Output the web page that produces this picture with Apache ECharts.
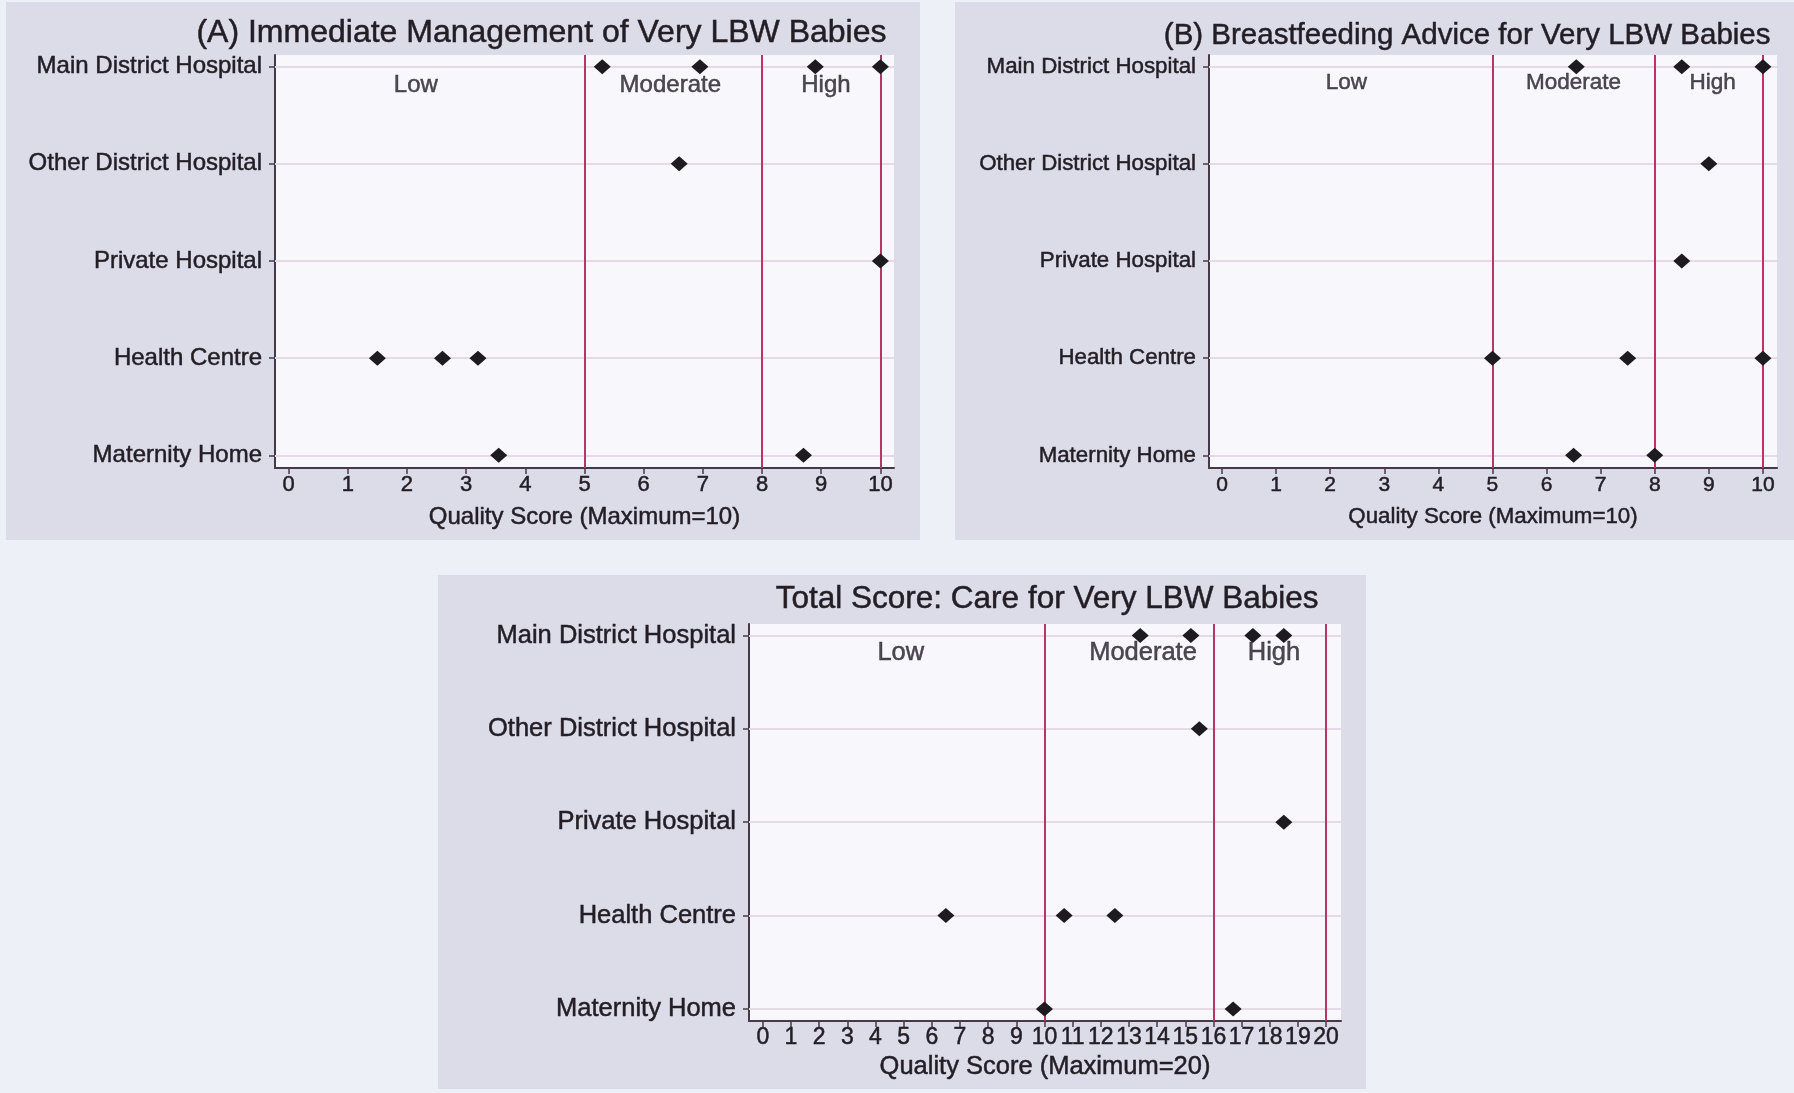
<!DOCTYPE html>
<html>
<head>
<meta charset="utf-8">
<script src="https://cdn.jsdelivr.net/npm/echarts@6/dist/echarts.min.js"></script>
<style>
html,body{margin:0;padding:0;background:#eef0f7;}
#c{width:1794px;height:1093px;}
</style>
</head>
<body>
<div id="c"></div>
<script>
// ---------- data ----------
const categories = ['Main District Hospital', 'Other District Hospital', 'Private Hospital', 'Health Centre', 'Maternity Home'];
const ticks10 = [0, 1, 2, 3, 4, 5, 6, 7, 8, 9, 10];
const ticks20 = [0, 1, 2, 3, 4, 5, 6, 7, 8, 9, 10, 11, 12, 13, 14, 15, 16, 17, 18, 19, 20];
const bandLabels = ['Low', 'Moderate', 'High'];

const titleA = '(A) Immediate Management of Very LBW Babies';
const titleB = '(B) Breastfeeding Advice for Very LBW Babies';
const titleC = 'Total Score: Care for Very LBW Babies';
const axisName10 = 'Quality Score (Maximum=10)';
const axisName20 = 'Quality Score (Maximum=20)';

// Panel A: Immediate management (score out of 10)
const aMainDistrict = [5.3, 6.95, 8.9, 10];
const aOtherDistrict = [6.6];
const aPrivate = [10];
const aHealthCentre = [1.5, 2.6, 3.2];
const aMaternity = [3.55, 8.7];
const cutoffsA = [5, 8, 10];
const bandXA = [2.15, 6.45, 9.08];

// Panel B: Breastfeeding advice (score out of 10)
const bMainDistrict = [6.55, 8.5, 10];
const bOtherDistrict = [9];
const bPrivate = [8.5];
const bHealthCentre = [5, 7.5, 10];
const bMaternity = [6.5, 8];
const cutoffsB = [5, 8, 10];
const bandXB = [2.3, 6.5, 9.07];

// Panel C: Total score (out of 20)
const cMainDistrict = [13.4, 15.2, 17.4, 18.5];
const cOtherDistrict = [15.5];
const cPrivate = [18.5];
const cHealthCentre = [6.5, 10.7, 12.5];
const cMaternity = [10, 16.7];
const cutoffsC = [10, 16, 20];
const bandXC = [4.9, 13.5, 18.15];

// ---------- build ----------
const FONT = '"Liberation Sans", Arial, Helvetica, sans-serif';
const TXT = '#231e25';
const AXC = '#46394a';
const THICK = { textBorderColor: TXT, textBorderWidth: 0.5 };

function points(groups) {
  const out = [];
  groups.forEach((vals, idx) => vals.forEach(v => out.push([v, idx])));
  return out;
}

const panels = [
  { title: titleA, name: axisName10, ticks: ticks10, cut: cutoffsA, band: bandXA,
    groups: [aMainDistrict, aOtherDistrict, aPrivate, aHealthCentre, aMaternity],
    grid: { left: 275, top: 55, width: 619, height: 413 },
    xmin: -0.23, xmax: 10.23, ymin: -0.12, ymax: 4.13,
    titlePos: { right: 907, top: 17 }, titleFont: 32, labelFont: 24, bandFont: 24,
    bandOff: 19, tickFont: 22, tickMargin: 6, nameFont: 24, nameGap: 37 },
  { title: titleB, name: axisName10, ticks: ticks10, cut: cutoffsB, band: bandXB,
    groups: [bMainDistrict, bOtherDistrict, bPrivate, bHealthCentre, bMaternity],
    grid: { left: 1209, top: 55, width: 568, height: 413 },
    xmin: -0.24, xmax: 10.26, ymin: -0.12, ymax: 4.13,
    titlePos: { right: 23, top: 21 }, titleFont: 29.5, labelFont: 22.3, bandFont: 22.5,
    bandOff: 16, tickFont: 21, tickMargin: 7, nameFont: 22.3, nameGap: 38 },
  { title: titleC, name: axisName20, ticks: ticks20, cut: cutoffsC, band: bandXC,
    groups: [cMainDistrict, cOtherDistrict, cPrivate, cHealthCentre, cMaternity],
    grid: { left: 749, top: 624, width: 592, height: 397 },
    xmin: -0.49, xmax: 20.53, ymin: -0.123, ymax: 4.129,
    titlePos: { right: 475, top: 583 }, titleFont: 31.5, labelFont: 25.5, bandFont: 25.5,
    bandOff: 17, tickFont: 23, tickMargin: 5, nameFont: 25.5, nameGap: 33 }
];

const option = {
  animation: false,
  backgroundColor: '#eef0f7',
  textStyle: { fontFamily: FONT, color: TXT },
  graphic: [
    { type: 'rect', shape: { x: 6, y: 2, width: 914, height: 538 }, style: { fill: '#dcdce8' }, z: -10, silent: true },
    { type: 'rect', shape: { x: 955, y: 2, width: 839, height: 538 }, style: { fill: '#dcdce8' }, z: -10, silent: true },
    { type: 'rect', shape: { x: 438, y: 575, width: 928, height: 514 }, style: { fill: '#dcdce8' }, z: -10, silent: true }
  ],
  title: [], grid: [], xAxis: [], yAxis: [], series: []
};

panels.forEach((p, i) => {
  option.title.push(Object.assign({
    text: p.title, padding: 0,
    textStyle: Object.assign({ fontFamily: FONT, fontSize: p.titleFont, fontWeight: 'normal', color: TXT }, THICK)
  }, p.titlePos));
  option.grid.push(Object.assign({ show: true, backgroundColor: '#f7f7fc', borderWidth: 0 }, p.grid));
  option.xAxis.push({
    type: 'value', gridIndex: i, min: p.xmin, max: p.xmax,
    name: p.name, nameLocation: 'middle', nameGap: p.nameGap,
    nameTextStyle: Object.assign({ fontFamily: FONT, fontSize: p.nameFont, color: TXT }, THICK),
    axisLine: { show: true, onZero: false, lineStyle: { color: AXC, width: 2 } },
    axisTick: { show: true, length: 6, customValues: p.ticks, lineStyle: { color: AXC, width: 1.5 } },
    axisLabel: Object.assign({ customValues: p.ticks, margin: p.tickMargin, fontFamily: FONT, fontSize: p.tickFont, color: TXT }, THICK),
    splitLine: { show: false }
  });
  option.yAxis.push({
    type: 'value', gridIndex: i, inverse: true, min: p.ymin, max: p.ymax,
    axisLine: { show: true, onZero: false, lineStyle: { color: AXC, width: 2 } },
    axisTick: { show: true, length: 6, customValues: categories.map((_, k) => k), lineStyle: { color: AXC, width: 1.5 } },
    axisLabel: Object.assign({ customValues: categories.map((_, k) => k), margin: 13, fontFamily: FONT, fontSize: p.labelFont, color: TXT,
      formatter: v => categories[Math.round(v)] }, THICK),
    splitLine: { show: false }
  });
  // horizontal category grid lines
  option.series.push({
    type: 'scatter', xAxisIndex: i, yAxisIndex: i, data: [], z: 1, silent: true,
    markLine: { z: 1, silent: true, symbol: ['none', 'none'], label: { show: false },
      lineStyle: { color: '#e6dae8', width: 2, type: 'solid' },
      data: categories.map((_, k) => ({ yAxis: k })) }
  });
  // cut-off lines
  option.series.push({
    type: 'scatter', xAxisIndex: i, yAxisIndex: i, data: [], z: 2, silent: true,
    markLine: { z: 2, silent: true, symbol: ['none', 'none'], label: { show: false },
      lineStyle: { color: '#bb3463', width: 2, type: 'solid' },
      data: p.cut.map(v => ({ xAxis: v })) }
  });
  // band labels
  option.series.push({
    type: 'scatter', xAxisIndex: i, yAxisIndex: i, z: 3, silent: true, symbolSize: 0,
    data: p.band.map((x, k) => ({ value: [x, 0], name: bandLabels[k] })),
    label: Object.assign({ show: true, position: 'inside', offset: [0, p.bandOff], formatter: '{b}',
      fontFamily: FONT, fontSize: p.bandFont, color: TXT }, THICK)
  });
  // points
  option.series.push({
    type: 'scatter', xAxisIndex: i, yAxisIndex: i, z: 10,
    symbol: 'diamond', symbolSize: [17, 15],
    itemStyle: { color: '#1d1a20', opacity: 1, borderWidth: 0 },
    data: points(p.groups)
  });
});

const chart = echarts.init(document.getElementById('c'));
chart.setOption(option);
</script>
</body>
</html>
